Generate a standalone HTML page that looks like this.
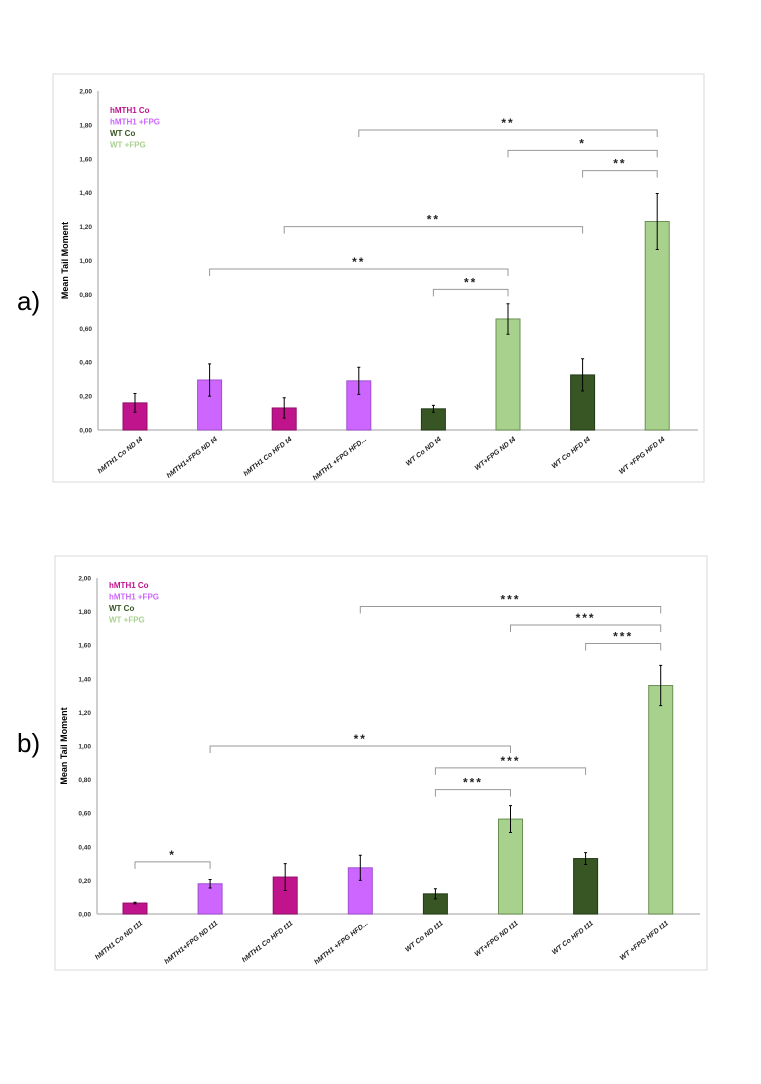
<!DOCTYPE html>
<html><head><meta charset="utf-8"><style>
body{margin:0;background:#fff;width:761px;height:1084px;overflow:hidden;font-family:"Liberation Sans",sans-serif}
svg{position:absolute;left:0;top:0}
</style></head><body>
<svg id="s" width="761" height="1084"></svg>
<script>
const categoriesA=["hMTH1 Co ND t4","hMTH1+FPG ND t4","hMTH1 Co HFD t4","hMTH1 +FPG HFD...","WT Co ND t4","WT+FPG ND t4","WT Co HFD t4","WT +FPG HFD t4"];
const valuesA=[0.16,0.295,0.13,0.29,0.125,0.655,0.325,1.23];
const errorsA=[0.055,0.095,0.06,0.08,0.02,0.09,0.095,0.165];
const categoriesB=["hMTH1 Co ND t11","hMTH1+FPG ND t11","hMTH1 Co HFD t11","hMTH1 +FPG HFD...","WT Co ND t11","WT+FPG ND t11","WT Co HFD t11","WT +FPG HFD t11"];
const valuesB=[0.065,0.18,0.22,0.275,0.12,0.565,0.33,1.36];
const errorsB=[0.005,0.025,0.08,0.075,0.03,0.08,0.035,0.12];
const tickLabels=["0,00","0,20","0,40","0,60","0,80","1,00","1,20","1,40","1,60","1,80","2,00"];
const tickValues=[0,0.2,0.4,0.6,0.8,1.0,1.2,1.4,1.6,1.8,2.0];
const groupColors=["#c0148c","#cc66ff","#c0148c","#cc66ff","#375623","#a9d18e","#375623","#a9d18e"];
const legendLabels=["hMTH1 Co","hMTH1 +FPG","WT Co","WT +FPG"];
const legendColors=["#c0148c","#cc66ff","#375623","#a9d18e"];
// brackets: [fromIndex,toIndex,level value, stars]
const bracketsA=[[3,7,1.77,"**"],[5,7,1.65,"*"],[6,7,1.53,"**"],[2,6,1.2,"**"],[1,5,0.95,"**"],[4,5,0.83,"**"]];
const bracketsB=[[3,7,1.83,"***"],[5,7,1.72,"***"],[6,7,1.61,"***"],[1,5,1.0,"***".slice(0,2)],[4,6,0.87,"***"],[4,5,0.74,"***"],[0,1,0.31,"*"]];

const NS="http://www.w3.org/2000/svg";
const svg=document.getElementById('s');
function mk(tag,attrs,parent){const e=document.createElementNS(NS,tag);for(const k in attrs)e.setAttribute(k,attrs[k]);(parent||svg).appendChild(e);return e;}

function chart(cfg,cats,vals,errs,brs){
  const g=mk('g',{});
  
  
  const box=mk('rect',{x:cfg.bx,y:cfg.by,width:cfg.bw,height:cfg.bh,fill:'#fff',stroke:'#d9d9d9'},g);
  
  
  const y=v=>cfg.y0-v*cfg.scale;
  const x=i=>cfg.x0+i*cfg.step;
  tickValues.forEach((v,i)=>{
    const t=mk('text',{x:cfg.ax-6,y:y(v)+2.5,'font-size':6.5,'font-weight':'bold','text-anchor':'end',fill:'#333'},g);
    t.textContent=tickLabels[i];
    
    
  });
  const ya=mk('line',{x1:cfg.ax,y1:y(2),x2:cfg.ax,y2:cfg.y0,stroke:'#bfbfbf','stroke-width':1.5},g);
  
  
  const xa=mk('line',{x1:cfg.ax,y1:cfg.y0,x2:cfg.axEnd,y2:cfg.y0,stroke:'#bfbfbf','stroke-width':1.5},g);
  
  
  const yt=mk('text',{x:0,y:0,'font-size':9,'font-weight':'bold','text-anchor':'middle',transform:`translate(${cfg.ax-30},${(y(2)+cfg.y0)/2}) rotate(-90)`},g);
  yt.textContent='Mean Tail Moment';
  
  
  vals.forEach((v,i)=>{
    const c=groupColors[i];
    const r=mk('rect',{x:x(i)-12,y:y(v),width:24,height:cfg.y0-y(v),fill:c,stroke:c==='#a9d18e'?'#6a8f52':(c==='#cc66ff'?'#a050d0':(c==='#375623'?'#243a17':'#900f6a')),'stroke-width':1},g);
    
    
    const e=errs[i];
    const el=mk('path',{d:`M${x(i)},${y(v+e)}V${y(v-e)}M${x(i)-1.5},${y(v+e)}h3M${x(i)-1.5},${y(v-e)}h3`,stroke:'#000','stroke-width':1,fill:'none'},g);
    
    
    const t=mk('text',{x:0,y:0,'font-size':7,'font-weight':'bold','font-style':'italic','text-anchor':'end',fill:'#222',transform:`translate(${x(i)+8},${cfg.y0+10}) rotate(-38)`},g);
    t.textContent=cats[i];
    
    
  });
  brs.forEach(b=>{
    const yy=y(b[2]);
    const p=mk('path',{d:`M${x(b[0])},${yy+7}V${yy}H${x(b[1])}V${yy+7}`,stroke:'#999','stroke-width':1,fill:'none'},g);
    
    
    const t=mk('text',{x:(x(b[0])+x(b[1]))/2,y:yy-3,'font-size':12,'font-weight':'bold','text-anchor':'middle','letter-spacing':2,fill:'#222'},g);
    t.textContent=b[3];
    
    
  });
  legendLabels.forEach((l,i)=>{
    const t=mk('text',{x:cfg.ax+12,y:cfg.legY+i*11.5,'font-size':8,'font-weight':'bold',fill:legendColors[i]},g);
    t.textContent=l;
    
    
  });
  const lab=mk('text',{x:17,y:cfg.labY,'font-size':26,fill:'#000'},g);
  lab.textContent=cfg.label;
  
  
}
chart({name:'chart-a',bx:53,by:74,bw:651,bh:408,ax:98,axEnd:698,y0:430,scale:169.5,x0:135,step:74.6,legY:113,labY:310,label:'a)'},categoriesA,valuesA,errorsA,bracketsA);
chart({name:'chart-b',bx:55,by:556,bw:652,bh:414,ax:97,axEnd:700,y0:914,scale:168,x0:135,step:75.1,legY:588,labY:752,label:'b)'},categoriesB,valuesB,errorsB,bracketsB);
</script>
</body></html>
